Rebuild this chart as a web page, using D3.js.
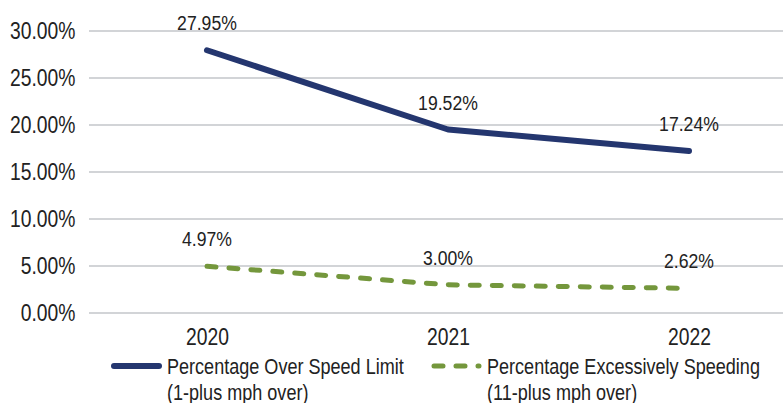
<!DOCTYPE html>
<html>
<head>
<meta charset="utf-8">
<script src="https://cdn.jsdelivr.net/npm/d3@7"></script>
<style>
  body { margin: 0; background: #fff; }
  svg text { font-family: "Liberation Sans", Arial, sans-serif; fill: #222; }
</style>
</head>
<body>
<div id="chart"></div>
<script>
// chart data
var years = ["2020", "2021", "2022"];
var overLimit = [27.95, 19.52, 17.24];
var excessive = [4.97, 3.00, 2.62];
var yTicks = [0, 5, 10, 15, 20, 25, 30];
var seriesNames = [
    ["Percentage Over Speed Limit", "(1-plus mph over)"],
    ["Percentage Excessively Speeding", "(11-plus mph over)"]
];
var colors = ["#24366f", "#74973c"];

var width = 783, height = 403;
var narrow = 0.84; // the original uses a condensed face

var svg = d3.select("#chart")
    .append("svg")
    .attr("width", width)
    .attr("height", height);

var x = d3.scalePoint()
    .domain(years)
    .range([207, 689]);

var y = d3.scaleLinear()
    .domain([0, 30])
    .range([313, 31]);

// gridlines
svg.append("g")
    .selectAll("line")
    .data(yTicks)
    .enter()
    .append("line")
    .attr("x1", 89)
    .attr("x2", 810)
    .attr("y1", function(d) { return y(d); })
    .attr("y2", function(d) { return y(d); })
    .attr("stroke", "#c3c6ca")
    .attr("stroke-width", 1.5);

// y axis
var yAxis = svg.append("g")
    .attr("transform", "translate(78,0)")
    .call(d3.axisLeft(y).tickValues(yTicks).tickSize(0).tickPadding(3)
        .tickFormat(function(d) { return d.toFixed(2) + "%"; }));
yAxis.select(".domain").remove();
yAxis.selectAll("text")
    .style("font-size", "23px")
    .attr("fill", "#222")
    .attr("transform", "scale(" + narrow + ",1)");

// x axis
var xAxis = svg.append("g")
    .attr("transform", "translate(0,313)")
    .call(d3.axisBottom(x).tickSize(0).tickPadding(16));
xAxis.select(".domain").remove();
xAxis.selectAll("text")
    .style("font-size", "23px")
    .attr("fill", "#222")
    .attr("transform", "scale(" + narrow + ",1)");

var line = d3.line()
    .x(function(d, i) { return x(years[i]); })
    .y(function(d) { return y(d); });

svg.append("path")
    .datum(overLimit)
    .attr("fill", "none")
    .attr("stroke", colors[0])
    .attr("stroke-width", 6)
    .attr("stroke-linecap", "round")
    .attr("stroke-linejoin", "round")
    .attr("d", line);

svg.append("path")
    .datum(excessive)
    .attr("fill", "none")
    .attr("stroke", colors[1])
    .attr("stroke-width", 5)
    .attr("stroke-linecap", "round")
    .attr("stroke-dasharray", "9,13")
    .attr("d", line);

// data labels
[overLimit, excessive].forEach(function(series) {
    svg.append("g")
        .selectAll("text")
        .data(series)
        .enter()
        .append("text")
        .attr("transform", function(d, i) {
            return "translate(" + x(years[i]) + "," + (y(d) - 20) + ") scale(" + narrow + ",1)";
        })
        .attr("text-anchor", "middle")
        .style("font-size", "21px")
        .text(function(d) { return d.toFixed(2) + "%"; });
});

// legend
var legend = svg.append("g");
var legendX = [111, 431];
seriesNames.forEach(function(name, i) {
    var g = legend.append("g").attr("transform", "translate(" + legendX[i] + ",366)");
    g.append("line")
        .attr("x1", 3).attr("x2", 48)
        .attr("stroke", colors[i])
        .attr("stroke-width", i == 0 ? 6 : 5)
        .attr("stroke-linecap", "round")
        .attr("stroke-dasharray", i == 0 ? null : "9,13");
    g.append("text")
        .attr("transform", "translate(56,8) scale(" + narrow + ",1)")
        .style("font-size", "21.5px")
        .text(name[0]);
    g.append("text")
        .attr("transform", "translate(56,34) scale(" + narrow + ",1)")
        .style("font-size", "21.5px")
        .text(name[1]);
});
</script>
</body>
</html>
